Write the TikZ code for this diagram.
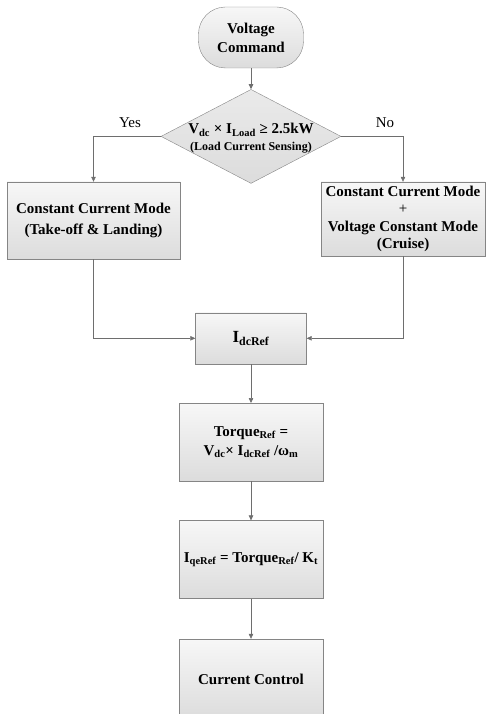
\documentclass[tikz,border=0pt]{standalone}
\usepackage{fontspec}
\setmainfont{Liberation Serif}
\usepackage{tikz}
\usetikzlibrary{positioning,arrows.meta,shapes.geometric}
\definecolor{edge}{HTML}{858585}
\definecolor{wire}{HTML}{6E6E6E}
\definecolor{shade}{HTML}{DCDCDC}
\definecolor{pale}{HTML}{F7F7F7}

\begin{document}
\begin{tikzpicture}[x=1pt, y=1pt, node distance=39pt,
  blk/.style={draw=edge, top color=pale, bottom color=shade, align=center, inner sep=2pt, font=\fontsize{15}{19}\selectfont\bfseries},
  term/.style={blk, rounded corners=27pt, minimum width=105pt, minimum height=61pt},
  dec/.style={diamond, draw=edge, top color=shade!60, bottom color=shade, minimum width=180pt, minimum height=94pt, inner sep=0pt},
  mid/.style={blk, minimum width=144pt, minimum height=78pt},
  tag/.style={font=\fontsize{15}{18}\selectfont},
  arr/.style={-{Triangle[length=5pt, width=4.5pt]}, wire, semithick}]
  \useasboundingbox (0,0) rectangle (489,-714);
  \node[term] (start) at (251,-37.5) {Voltage\\Command};
  \node[dec, below=21pt of start, label={[align=center, yshift=-2pt]center:{\fontsize{15}{20}\selectfont\bfseries V\textsubscript{dc} × I\textsubscript{Load} ≥ 2.5kW\\[5pt]\fontsize{12}{14}\selectfont\bfseries (Load Current Sensing)}}] (cond) {};
  \node[blk, minimum width=173pt, minimum height=77pt, font=\fontsize{15}{21}\selectfont\bfseries] (ccm) at (93.5,-220.5) {Constant Current Mode\\(Take-off \& Landing)};
  \node[blk, minimum width=164pt, minimum height=74pt, font=\fontsize{15}{17.5}\selectfont\bfseries] (ccv) at (403,-219) {Constant Current Mode\\{\mdseries +}\\Voltage Constant Mode\\(Cruise)};
  \node[tag] (yes) at (130,-123) {Yes};
  \node[tag] (no) at (385,-123) {No};
  \node[blk, below=129pt of cond, minimum width=111pt, minimum height=51pt] (idc) {\fontsize{17}{19}\selectfont I\textsubscript{dcRef}};
  \node[mid, below=of idc] (torq) {Torque\textsubscript{Ref} =\\V\textsubscript{dc}× I\textsubscript{dcRef} /ω\textsubscript{m}};
  \node[mid, below=of torq] (iq) {I\textsubscript{qeRef} = Torque\textsubscript{Ref}/ K\textsubscript{t}};
  \node[mid, below=40pt of iq, minimum height=80pt] (cc) {Current Control};
  \draw[arr] (start) -- (cond); \draw[arr] (cond.west) -| (ccm.north); \draw[arr] (cond.east) -| (ccv.north);
  \draw[arr] (ccm.south) |- (idc.west); \draw[arr] (ccv.south) |- (idc.east);
  \draw[arr] (idc) -- (torq); \draw[arr] (torq) -- (iq); \draw[arr] (iq) -- (cc);
\end{tikzpicture}
\end{document}
